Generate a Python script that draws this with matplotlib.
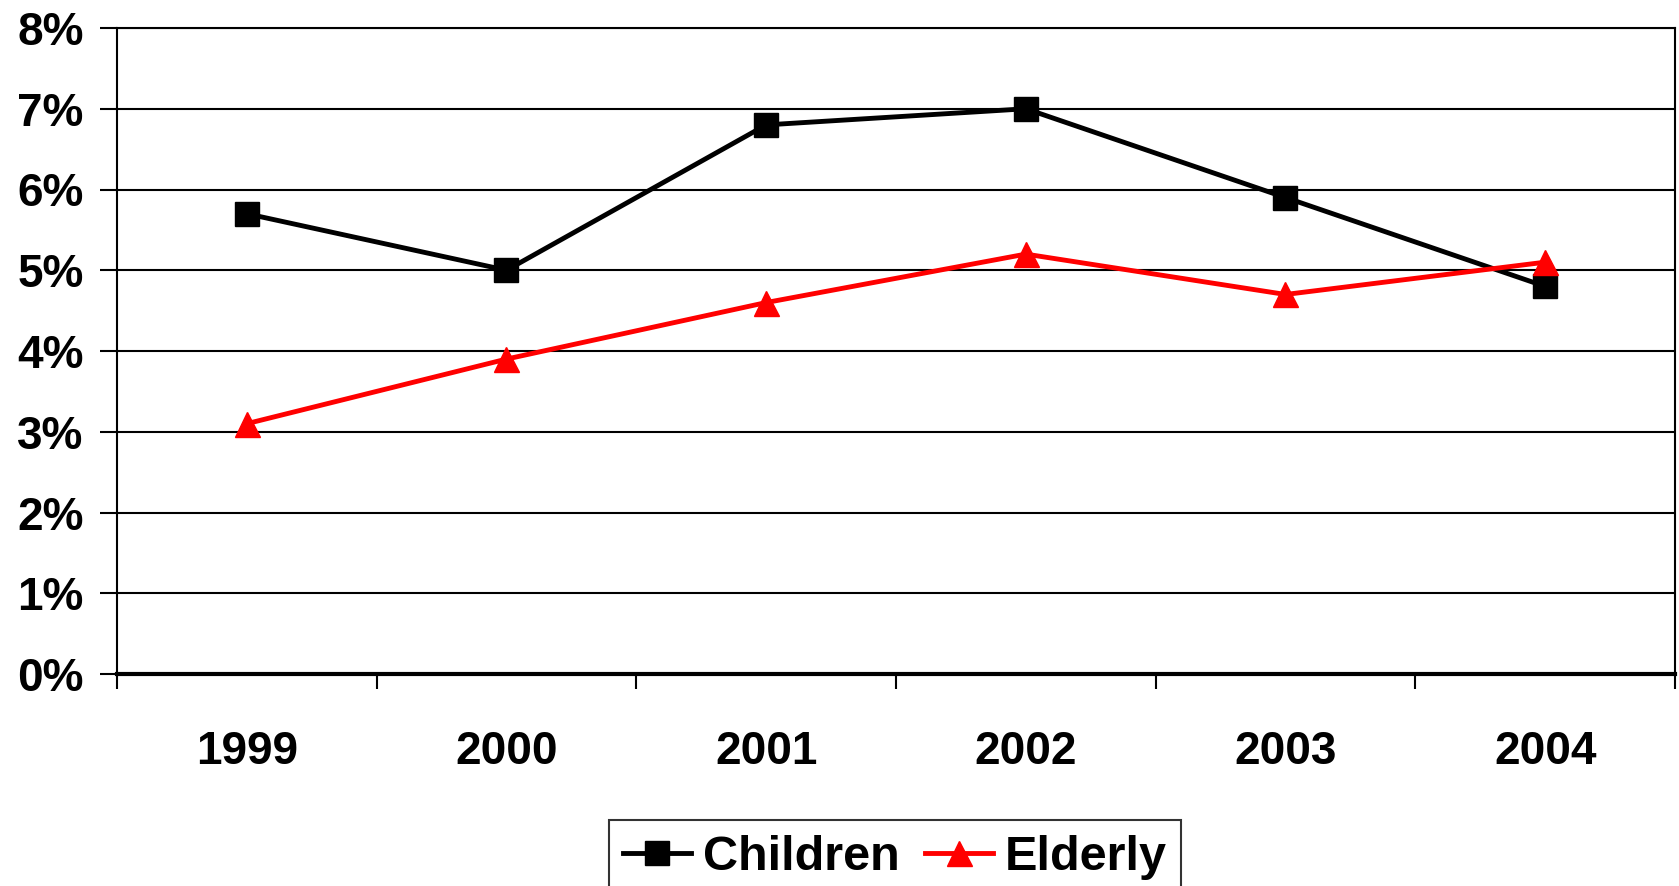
import matplotlib.pyplot as plt
import numpy as np

# --- data ---
years = ['1999', '2000', '2001', '2002', '2003', '2004']
children = [5.7, 5.0, 6.8, 7.0, 5.9, 4.8]
elderly = [3.1, 3.9, 4.6, 5.2, 4.7, 5.1]
y_ticks = [0, 1, 2, 3, 4, 5, 6, 7, 8]

plt.rcParams['font.family'] = ['Liberation Sans', 'DejaVu Sans']
plt.rcParams['font.weight'] = 'bold'

fig = plt.figure(figsize=(16.79, 8.86), dpi=100)
ax = fig.add_axes([117 / 1679, 1 - 674 / 886, (1675 - 117) / 1679, (674 - 28) / 886])

x = np.arange(len(years)) + 0.5
ax.plot(x, children, color='black', lw=3.5, marker='s', ms=17, label='Children', zorder=3)
ax.plot(x, elderly, color='red', lw=3.5, marker='^', ms=18, label='Elderly', zorder=4)

ax.set_xlim(0, len(years))
ax.set_ylim(0, 8)

# gridlines
for v in y_ticks:
    ax.axhline(v, color='black', lw=1.5, zorder=1)

ax.set_yticks(y_ticks)
ax.set_yticklabels([f'{v}%' for v in y_ticks], fontsize=33, fontweight='bold')
ax.tick_params(axis='y', length=12, width=1.5, pad=12)

# boundary ticks on x, labels at category centres
ax.set_xticks(np.arange(len(years) + 1))
ax.set_xticklabels([])
ax.tick_params(axis='x', which='major', length=11, width=1.5, direction='out')
ax.set_xticks(x, minor=True)
ax.set_xticklabels(years, minor=True, fontsize=33, fontweight='bold')
ax.tick_params(axis='x', which='minor', length=0, pad=40)

for s in ['left', 'right', 'top']:
    ax.spines[s].set_linewidth(1.5)
ax.spines['bottom'].set_linewidth(3)

leg = fig.legend(loc='upper center', bbox_to_anchor=(895 / 1679, 1 - 820 / 886),
                 ncol=2, frameon=True, fancybox=False, edgecolor='black',
                 handlelength=1.4, handletextpad=0.25, columnspacing=0.5,
                 borderpad=0.3, borderaxespad=0, prop={'weight': 'bold', 'size': 35})
leg.get_frame().set_linewidth(1.5)

fig.savefig('out.png', dpi=100)
